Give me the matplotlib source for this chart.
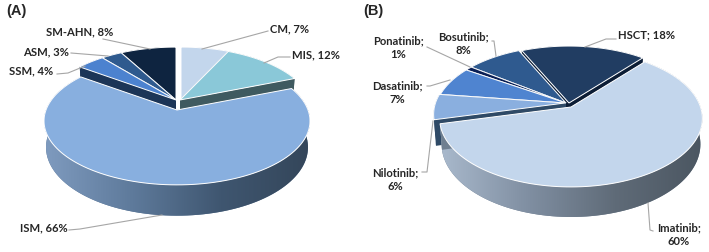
import numpy as np
import matplotlib
matplotlib.use("AGG")
from matplotlib import pyplot as plt
from matplotlib.colors import LinearSegmentedColormap
from matplotlib.patches import Polygon

plt.rcParams['font.family'] = ['Lato', 'DejaVu Sans']

# panel A
a_names = ["CM", "MIS", "ISM", "SSM", "ASM", "SM-AHN"]
a_values = [7, 12, 66, 4, 3, 8]
a_colors = ["#c3d6ec", "#8ac8d8", "#88afdf", "#4c82cf", "#2f5a8e", "#0e2440"]
a_walls = ["#8ea0b5", "#3f5a60", "#5a7594", "#1c3557", "#1c3557", "#081626"]
a_offsets = [(3, 0), (2, 0), (-1, 10), (-2, 0), (-2, 0), (-2, 0)]

# panel B
b_names = ["Imatinib", "Nilotinib", "Dasatinib", "Ponatinib", "Bosutinib", "HSCT"]
b_values = [60, 6, 7, 1, 8, 18]
b_colors = ["#c3d6ec", "#8aafdf", "#4f84d0", "#0a1f55", "#2f5a8f", "#213d62"]
b_walls = ["#6f7f90", "#2f4a66", "#2f4a66", "#0a1f55", "#1c3557", "#0c1d35"]
b_offsets = [(5, 4), (-1, 0), (0, 0), (0, 0), (0, 0), (3, 0)]


def project(t, R, Rt, k):
    u, v = np.sin(t), np.cos(t)
    s = 1 / (1 + k * v)
    return R * u * s, -Rt * v * s, s


def draw_pie(ax, values, colors, walls, offsets, start, apex, R, Rt, k, depth, big, stops):
    fracs = np.array(values) / sum(values) * 2 * np.pi
    ends = np.deg2rad(start) + np.cumsum(fracs)
    starts = ends - fracs
    mids = (starts + ends) / 2
    # back slices first
    for i in np.argsort(-np.cos(mids)):
        t = np.linspace(starts[i], ends[i], 120)
        x, y, s = project(t, R, Rt, k)
        ox = apex[0] + offsets[i][0]
        oy = apex[1] + offsets[i][1]
        top = np.column_stack([ox + x, oy + y])
        low = np.column_stack([ox + x * 0.985, oy + y + depth * s])
        wall = Polygon(np.vstack([top, low[::-1]]), closed=True, fc=walls[i], ec="none")
        ax.add_patch(wall)
        if i == big:
            cmap = LinearSegmentedColormap.from_list("wall", stops)
            im = ax.imshow(np.linspace(0, 1, 256).reshape(1, -1), cmap=cmap, aspect="auto",
                           extent=[top[:, 0].min(), top[:, 0].max(), 253, 0], zorder=1)
            im.set_clip_path(wall)
            wall.set_zorder(1)
        # radial side faces
        for j in (0, -1):
            face = [(ox, oy), tuple(top[j]), (low[j][0], low[j][1]), (ox, oy + depth)]
            ax.add_patch(Polygon(face, closed=True, fc=walls[i], ec="none", zorder=1))
        wedge = np.vstack([[ox, oy], top])
        ax.add_patch(Polygon(wedge, closed=True, fc=colors[i], ec="white", lw=0.7, zorder=1))


fig = plt.figure(figsize=(7.09, 2.53))
ax = fig.add_axes([0, 0, 1, 1])

draw_pie(ax, a_values, a_colors, a_walls, a_offsets, 0, (178, 101), 131, 62, 0.172, 25.5, 2,
         ["#7f9bbf", "#5e7a9b", "#3f5670", "#34465a"])
draw_pie(ax, b_values, b_colors, b_walls, b_offsets, 40, (566, 104), 129.5, 66.5, 0.168, 25, 0,
         ["#a9b9cc", "#808fa2", "#5f6b78", "#4b5661"])

ax.set_xlim(0, 709)
ax.set_ylim(253, 0)
ax.axis("off")

# leader lines, picture pixels
leaders = [
    [(268, 32), (202, 50)],
    [(290, 58), (278, 58), (264, 64)],
    [(103, 40), (150, 50)],
    [(71, 54), (108, 57)],
    [(57, 75), (68, 74), (85, 67)],
    [(69, 231), (80, 230), (162, 216)],
    [(616, 40), (606, 40), (585, 48)],
    [(492, 42), (494, 42), (496, 57)],
    [(427, 48), (470, 68)],
    [(427, 87), (430, 87), (450, 81)],
    [(422, 173), (427, 173), (433, 122)],
    [(653, 232), (650, 231), (648, 204)],
]
for pts in leaders:
    xs, ys = zip(*pts)
    ax.plot(xs, ys, color="#a6a6a6", lw=0.8, zorder=2)

txt = dict(fontsize=8.1, color="#262626", fontweight="bold", zorder=3, linespacing=1.3)
a_pos = [(290, 29), (316, 55), (44, 228), (31, 71), (46, 52), (80, 32)]
for name, val, (x, y) in zip(a_names, a_values, a_pos):
    ax.text(x, y, f"{name}, {val}%", ha="center", va="center", **txt)
b_pos = [(679, 235), (395, 180), (397, 93), (398, 48), (463, 44), (646, 35)]
for name, val, (x, y) in zip(b_names, b_values, b_pos):
    sep = " " if name == "HSCT" else "\n"
    ax.text(x, y, f"{name};{sep}{val}%", ha="center", va="center", **txt)

ax.text(6, 11, "(A)", family="Liberation Sans", fontweight="bold", fontsize=10.5,
        color="#262626", va="center")
ax.text(363, 11, "(B)", family="Liberation Sans", fontweight="bold", fontsize=10.5,
        color="#262626", va="center")

plt.savefig("out.png", dpi=100)
